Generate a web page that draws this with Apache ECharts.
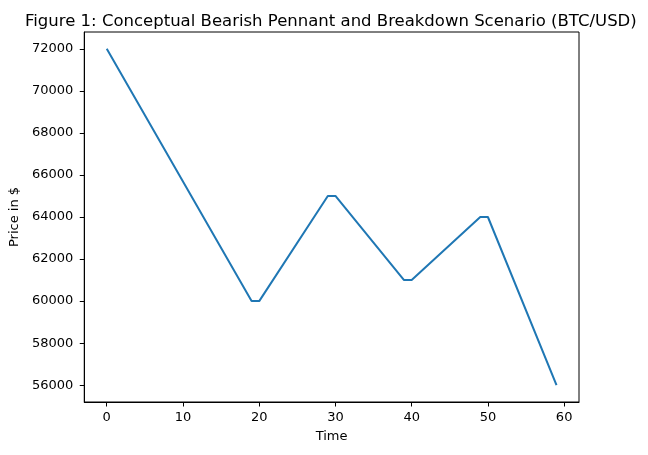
<!DOCTYPE html>
<html>
<head>
<meta charset="utf-8">
<script src="https://cdn.jsdelivr.net/npm/echarts@6/dist/echarts.min.js"></script>
<style>html,body{margin:0;padding:0;background:#fff}#c{width:648px;height:455px}</style>
</head>
<body>
<div id="c"></div>
<script>
// Vertices of the price path (time, price)
const times  = [0, 19, 20, 29, 30, 39, 40, 49, 50, 59];
const prices = [72000, 60000, 60000, 65000, 65000, 61000, 61000, 64000, 64000, 56000];
const xTicks = [0, 10, 20, 30, 40, 50, 60];
const yTicks = [56000, 58000, 60000, 62000, 64000, 66000, 68000, 70000, 72000];
const titleText = 'Figure 1: Conceptual Bearish Pennant and Breakdown Scenario (BTC/USD)';

const font = 'DejaVu Sans';
const chart = echarts.init(document.getElementById('c'), null, {renderer: 'canvas'});
chart.setOption({
  animation: false,
  backgroundColor: '#fff',
  title: {
    text: titleText, left: 20, top: 8,
    textStyle: {fontFamily: font, fontSize: 16.5, fontWeight: 'normal', color: '#000'}
  },
  grid: {left: 83, top: 32, width: 496, height: 370, show: true, borderColor: '#000', borderWidth: 1, backgroundColor: 'transparent'},
  xAxis: {
    type: 'value', min: -2.95, max: 61.95,
    name: 'Time', nameLocation: 'middle', nameGap: 28,
    nameTextStyle: {fontFamily: font, fontSize: 13, color: '#000'},
    axisLine: {show: true, onZero: false, lineStyle: {color: '#000', width: 1}},
    axisTick: {show: true, length: 4.5, customValues: xTicks, lineStyle: {color: '#000'}},
    axisLabel: {customValues: xTicks, margin: 9, fontFamily: font, fontSize: 13, color: '#000', formatter: v => String(v)},
    splitLine: {show: false}
  },
  yAxis: {
    type: 'value', min: 55200, max: 72800,
    name: 'Price in $', nameLocation: 'middle', nameGap: 61,
    nameTextStyle: {fontFamily: font, fontSize: 13, color: '#000'},
    axisLine: {show: true, onZero: false, lineStyle: {color: '#000', width: 1}},
    axisTick: {show: true, length: 4.5, customValues: yTicks, lineStyle: {color: '#000'}},
    axisLabel: {customValues: yTicks, margin: 11, fontFamily: font, fontSize: 13, color: '#000', formatter: v => String(v)},
    splitLine: {show: false}
  },
  series: [{
    type: 'line',
    data: times.map((t, i) => [t, prices[i]]),
    showSymbol: false,
    lineStyle: {color: '#1f77b4', width: 2},
    itemStyle: {color: '#1f77b4'}
  }]
});
</script>
</body>
</html>
